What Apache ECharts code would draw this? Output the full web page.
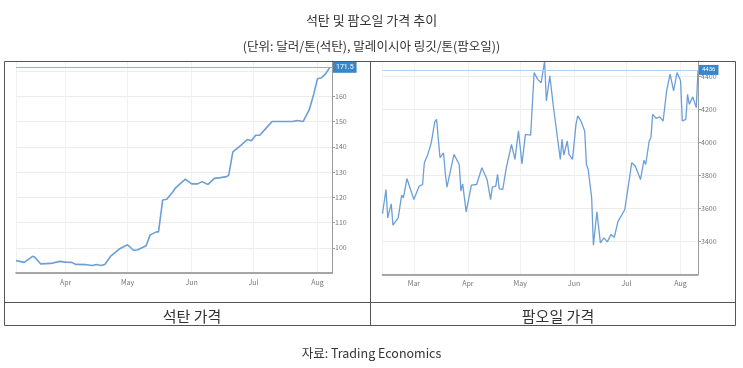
<!DOCTYPE html>
<html><head><meta charset="utf-8">
<script src="https://cdn.jsdelivr.net/npm/echarts@6/dist/echarts.min.js"></script>
<style>html,body{margin:0;padding:0;background:#fff}#c{width:743px;height:368px}</style>
</head><body><div id="c"></div>
<script>
// ---- data ----
const coalDates = ['2021-03-08','2021-03-12','2021-03-16','2021-03-17','2021-03-20','2021-03-25','2021-03-29',
  '2021-04-01','2021-04-04','2021-04-06','2021-04-11','2021-04-14','2021-04-16','2021-04-18','2021-04-20','2021-04-23','2021-04-27',
  '2021-05-01','2021-05-04','2021-05-06','2021-05-10','2021-05-12','2021-05-15','2021-05-16','2021-05-18','2021-05-20','2021-05-23','2021-05-24','2021-05-29',
  '2021-06-01','2021-06-04','2021-06-06','2021-06-09','2021-06-12','2021-06-15','2021-06-18','2021-06-19','2021-06-21','2021-06-25','2021-06-28','2021-06-30',
  '2021-07-02','2021-07-04','2021-07-07','2021-07-10','2021-07-16','2021-07-20','2021-07-22','2021-07-25','2021-07-28','2021-07-30',
  '2021-08-01','2021-08-03','2021-08-05','2021-08-07'];
const coalValues = [94.9,94.2,96.6,96.3,93.6,93.8,94.6,
  94.3,94.2,93.4,93.3,93.0,93.4,93.0,93.4,96.8,99.5,
  101.2,98.9,99.2,100.8,105.1,106.3,106.3,118.9,119.2,122.2,123.5,127.2,
  125.3,125.3,126.2,125.1,127.5,127.8,128.2,128.8,138.0,140.7,142.9,142.4,
  144.6,144.6,147.3,150.0,150.0,150.0,150.4,150.0,154.7,160.4,
  167.0,167.4,169.0,171.5];
const palmDates = ['2021-02-11','2021-02-13','2021-02-14','2021-02-16','2021-02-17','2021-02-20','2021-02-22','2021-02-23','2021-02-25',
  '2021-03-01','2021-03-04','2021-03-06','2021-03-07','2021-03-09','2021-03-11','2021-03-13','2021-03-14','2021-03-16','2021-03-18','2021-03-19','2021-03-20','2021-03-24','2021-03-25','2021-03-27','2021-03-28','2021-03-29','2021-03-31',
  '2021-04-03','2021-04-06','2021-04-09','2021-04-12','2021-04-14','2021-04-15','2021-04-17','2021-04-18','2021-04-19','2021-04-21','2021-04-23','2021-04-26','2021-04-28','2021-04-30',
  '2021-05-02','2021-05-04','2021-05-07','2021-05-09','2021-05-11','2021-05-13','2021-05-15','2021-05-16','2021-05-18','2021-05-20','2021-05-22','2021-05-24','2021-05-25','2021-05-26','2021-05-28','2021-05-29','2021-05-31',
  '2021-06-02','2021-06-03','2021-06-05','2021-06-07','2021-06-08','2021-06-09','2021-06-11','2021-06-12','2021-06-14','2021-06-16','2021-06-18','2021-06-20','2021-06-21','2021-06-22','2021-06-24','2021-06-26','2021-06-27','2021-06-30',
  '2021-07-02','2021-07-04','2021-07-06','2021-07-09','2021-07-11','2021-07-12','2021-07-14','2021-07-15','2021-07-16','2021-07-18','2021-07-20','2021-07-22','2021-07-24','2021-07-26','2021-07-28','2021-07-30',
  '2021-08-01','2021-08-02','2021-08-04','2021-08-05','2021-08-06','2021-08-08','2021-08-10','2021-08-11'];
const palmValues = [3566,3713,3541,3626,3497,3541,3679,3662,3779,
  3652,3733,3743,3875,3925,3996,4123,4137,3905,3935,3814,3727,3925,3925,3864,3703,3747,3578,
  3739,3743,3844,3773,3652,3727,3733,3804,3717,3713,3844,3985,3895,4067,
  3868,4046,4042,4420,4379,4359,4490,4248,4400,4218,4056,3895,4016,3921,4006,3925,3895,
  4107,4158,4123,4067,3864,3834,3662,3376,3578,3390,3420,3396,3400,3440,3424,3517,3511,3592,
  3733,3875,3855,3773,3889,3864,4006,4026,4167,4143,4152,4127,4309,4410,4309,4420,
  4370,4127,4137,4288,4228,4273,4208,4436];
const monthNames = ['Jan','Feb','Mar','Apr','May','Jun','Jul','Aug','Sep','Oct','Nov','Dec'];
const coalLast = 171.5;
const palmLast = 4436;
const titleText = '석탄 및 팜오일 가격 추이';
const subtitleText = '(단위: 달러/톤(석탄), 말레이시아 링깃/톤(팜오일))';
const panelLabels = ['석탄 가격', '팜오일 가격'];
const sourceText = '자료: Trading Economics';

// ---- chart ----
const chart = echarts.init(document.getElementById('c'), null, {renderer: 'canvas'});
const FONT = '"Noto Sans CJK KR", "Noto Sans", sans-serif';
const lineColor = '#6b9fd6';

function xAxisCfg(gi, min, max) {
  return {
    type: 'time', gridIndex: gi, min: min, max: max, splitNumber: 5,
    minInterval: 28 * 86400000,
    axisLine: {show: true, lineStyle: {color: '#8a8a8a', width: 1.5}},
    axisTick: {show: false},
    axisLabel: {fontSize: 7, color: '#777', margin: 6, hideOverlap: false,
      formatter: function (v) { const d = new Date(v); return monthNames[d.getMonth()]; }},
    splitLine: {show: true, lineStyle: {color: '#f1f1f1', width: 1}}
  };
}
function yAxisCfg(gi, min, max, interval, hide) {
  return {
    type: 'value', gridIndex: gi, position: 'right', min: min, max: max, interval: interval,
    axisLine: {show: true, lineStyle: {color: '#9a9a9a', width: 1}},
    axisTick: {show: true, length: 3, lineStyle: {color: '#9a9a9a'}},
    axisLabel: {fontSize: 7, color: '#777', margin: 3, showMinLabel: false, showMaxLabel: false,
      formatter: function (v) { return hide.indexOf(v) >= 0 ? '' : String(v); }},
    splitLine: {show: true, lineStyle: {color: '#ececec', width: 1}}
  };
}
function lastLine(val, text, lineCol, fs) {
  return {
    silent: true, symbol: 'none', animation: false,
    lineStyle: {color: lineCol, width: 1, type: 'solid'},
    label: {show: true, position: 'end', distance: 1, formatter: text,
      backgroundColor: '#3a86c8', color: '#fff', fontSize: fs, padding: [2, 3, 2, 3], fontFamily: 'Roboto, sans-serif'},
    data: [{yAxis: val}]
  };
}

const option = {
  animation: false,
  backgroundColor: '#fff',
  textStyle: {fontFamily: FONT},
  title: [
    {text: titleText, left: 'center', top: 9, textStyle: {fontSize: 13, fontWeight: 'normal', color: '#333', fontFamily: FONT}},
    {text: subtitleText, left: 'center', top: 35, textStyle: {fontSize: 12.5, fontWeight: 'normal', color: '#333', fontFamily: FONT}},
    {text: panelLabels[0], left: 187, textAlign: 'center', top: 304, textStyle: {fontSize: 15, fontWeight: 'normal', color: '#333', fontFamily: FONT}},
    {text: panelLabels[1], left: 553, textAlign: 'center', top: 304, textStyle: {fontSize: 15, fontWeight: 'normal', color: '#333', fontFamily: FONT}},
    {text: sourceText, left: 'center', top: 342, textStyle: {fontSize: 12.5, fontWeight: 'normal', color: '#333', fontFamily: FONT}}
  ],
  grid: [
    {left: 16, top: 61, width: 316, height: 212, outerBoundsMode: 'none'},
    {left: 382.5, top: 61, width: 315.5, height: 213.3, outerBoundsMode: 'none'}
  ],
  xAxis: [xAxisCfg(0, '2021-03-08', '2021-08-08'), xAxisCfg(1, '2021-02-11', '2021-08-11')],
  yAxis: [yAxisCfg(0, 90, 174, 10, [170]), yAxisCfg(1, 3200, 4490, 200, [])],
  series: [
    {type: 'line', xAxisIndex: 0, yAxisIndex: 0, showSymbol: false, symbol: 'none',
      lineStyle: {color: lineColor, width: 1.6}, z: 3,
      data: coalDates.map((d, i) => [d, coalValues[i]]),
      markLine: lastLine(coalLast, String(coalLast), '#9ea8e4', 7)},
    {type: 'line', xAxisIndex: 1, yAxisIndex: 1, showSymbol: false, symbol: 'none',
      lineStyle: {color: lineColor, width: 1.3}, z: 3,
      data: palmDates.map((d, i) => [d, palmValues[i]]),
      markLine: lastLine(palmLast, String(palmLast), '#b3d2ee', 6)}
  ],
  graphic: [
    {type: 'rect', silent: true, z: 100, shape: {x: 4.5, y: 61.5, width: 731, height: 264},
      style: {fill: 'none', stroke: '#555', lineWidth: 1}},
    {type: 'line', silent: true, z: 100, shape: {x1: 4.5, y1: 302.5, x2: 735.5, y2: 302.5},
      style: {stroke: '#555', lineWidth: 1}},
    {type: 'line', silent: true, z: 100, shape: {x1: 370.5, y1: 61.5, x2: 370.5, y2: 325.5},
      style: {stroke: '#555', lineWidth: 1}}
  ]
};
chart.setOption(option);
</script></body></html>
